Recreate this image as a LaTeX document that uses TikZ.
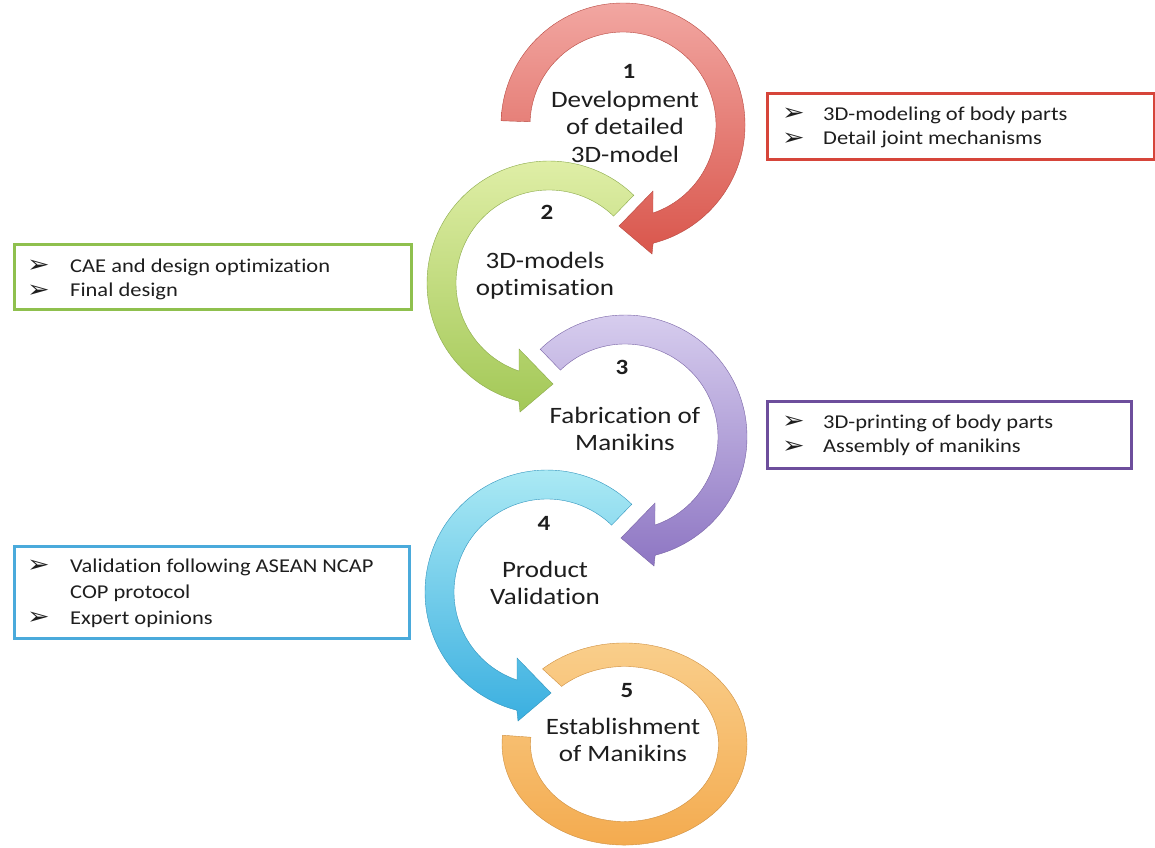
\documentclass[tikz,border=0pt]{standalone}
\usepackage{fontspec}
\setmainfont{Carlito}[Ligatures=NoCommon]
\newfontfamily\symfont{DejaVu Sans}
\usepackage{graphicx}
\definecolor{redA}{HTML}{F2A7A2}
\definecolor{redB}{HTML}{D9564C}
\definecolor{grnA}{HTML}{E2F0AA}
\definecolor{grnB}{HTML}{A3C857}
\definecolor{purA}{HTML}{DAD1F0}
\definecolor{purB}{HTML}{8E76C3}
\definecolor{bluA}{HTML}{B0ECF5}
\definecolor{bluB}{HTML}{3AAFE0}
\definecolor{orgA}{HTML}{FAD08E}
\definecolor{orgB}{HTML}{F3A94C}
\definecolor{redL}{HTML}{D6453A}
\definecolor{grnL}{HTML}{8FC04E}
\definecolor{purL}{HTML}{6D4E9C}
\definecolor{bluL}{HTML}{4AAADB}
\definecolor{txt}{HTML}{1E1E1E}
\newcommand\sqz[1]{\scalebox{1}[0.87]{#1}}
\def\Ro{122pt}\def\Ri{93pt}
\newcommand\cirarrow[2]{\path[#1] (#2:\Ro) arc[start angle=#2,end angle=-75.7,radius=\Ro] -- (29pt,-129pt) -- (-4pt,-101pt) -- (30pt,-66pt) -- (-71.2:\Ri) arc[start angle=-71.2,end angle=#2,radius=\Ri] -- cycle;}
\tikzset{
  steptext/.style={text=txt, inner sep=0pt, anchor=base, font=\fontsize{27pt}{32pt}\selectfont},
  stepnum/.style={text=txt, inner sep=0pt, anchor=base, font=\fontsize{25pt}{28pt}\selectfont\bfseries},
  infobox/.style={line width=2.6pt, fill=white, inner sep=0pt, anchor=north west},
  infotext/.style={text=txt, inner sep=0pt, anchor=base west, font=\fontsize{22.5pt}{28.4pt}\selectfont},
  arr/.style={line width=0.4pt}
}
\newcommand\bul[1]{\makebox[#1][l]{\raisebox{-1pt}{\symfont\fontsize{27pt}{27pt}\selectfont ➢}}}
\begin{document}
\begin{tikzpicture}
\useasboundingbox (0pt,0pt) rectangle (1155pt,-847pt);
\fill[white] (0pt,0pt) rectangle (1155pt,-847pt);
% 5 orange ring
\begin{scope}[shift={(624.5pt,-744pt)}, yscale=0.825]
  \path[top color=orgA, bottom color=orgB, draw=orgB!85!black, arr] (132:122.5pt) arc[start angle=132,end angle=-185,radius=122.5pt] -- (-185:94pt) arc[start angle=-185,end angle=132,radius=94pt] -- cycle;
\end{scope}
% 4 blue
\begin{scope}[shift={(547pt,-592pt)}, xscale=-1]
  \cirarrow{top color=bluA, bottom color=bluB, draw=bluB!85!black, arr}{134}
\end{scope}
% 3 purple
\begin{scope}[shift={(625pt,-437pt)}]
  \cirarrow{top color=purA, bottom color=purB, draw=purB!85!black, arr}{134}
\end{scope}
% 2 green
\begin{scope}[shift={(549pt,-283pt)}, xscale=-1]
  \cirarrow{top color=grnA, bottom color=grnB, draw=grnB!85!black, arr}{134}
\end{scope}
% 1 red
\begin{scope}[shift={(623pt,-125pt)}]
  \cirarrow{top color=redA, bottom color=redB, draw=redB!85!black, arr}{178}
\end{scope}
% step texts
\node[stepnum] (n1) at (629pt,-78pt) {\sqz{1}};
\node[steptext] (s1) at (625pt,-107pt) {\sqz{\begin{tabular}[t]{@{}c@{}}Development\\of detailed\\3D-model\end{tabular}}};
\node[stepnum] (n2) at (547pt,-219pt) {\sqz{2}};
\node[steptext] (s2) at (545pt,-268pt) {\sqz{\begin{tabular}[t]{@{}c@{}}3D-models\\optimisation\end{tabular}}};
\node[stepnum] (n3) at (622pt,-374pt) {\sqz{3}};
\node[steptext] (s3) at (625pt,-423pt) {\sqz{\begin{tabular}[t]{@{}c@{}}Fabrication of\\Manikins\end{tabular}}};
\node[stepnum] (n4) at (544pt,-530pt) {\sqz{4}};
\node[steptext] (s4) at (545pt,-577pt) {\sqz{\begin{tabular}[t]{@{}c@{}}Product\\Validation\end{tabular}}};
\node[stepnum] (n5) at (627pt,-697pt) {\sqz{5}};
\node[steptext] (s5) at (623pt,-734pt) {\sqz{\begin{tabular}[t]{@{}c@{}}Establishment\\of Manikins\end{tabular}}};
% info boxes
\node[infobox, draw=redL, minimum width=387pt, minimum height=66pt] (b1) at (766pt,-92pt) {};
\node[infotext] (t1) at (782pt,-120pt) {\sqz{\begin{tabular}[t]{@{}l@{}}\bul{41pt}3D-modeling of body parts\\\bul{41pt}Detail joint mechanisms\end{tabular}}};
\node[infobox, draw=grnL, minimum width=397pt, minimum height=65pt] (b2) at (13pt,-243pt) {};
\node[infotext] (t2) at (27pt,-272pt) {\sqz{\begin{tabular}[t]{@{}l@{}}\bul{43pt}CAE and design optimization\\\bul{43pt}Final design\end{tabular}}};
\node[infobox, draw=purL, minimum width=364pt, minimum height=67pt] (b3) at (766pt,-400pt) {};
\node[infotext] (t3) at (782pt,-428pt) {\sqz{\begin{tabular}[t]{@{}l@{}}\bul{41pt}3D-printing of body parts\\\bul{41pt}Assembly of manikins\end{tabular}}};
\node[infobox, draw=bluL, minimum width=395pt, minimum height=92pt] (b4) at (13pt,-545pt) {};
\node[infotext, font=\fontsize{22.5pt}{29.9pt}\selectfont] (t4) at (27pt,-572pt) {\sqz{\begin{tabular}[t]{@{}l@{}}\bul{43pt}Validation following ASEAN NCAP\\\makebox[43pt]{}COP protocol\\\bul{43pt}Expert opinions\end{tabular}}};
\end{tikzpicture}
\end{document}
